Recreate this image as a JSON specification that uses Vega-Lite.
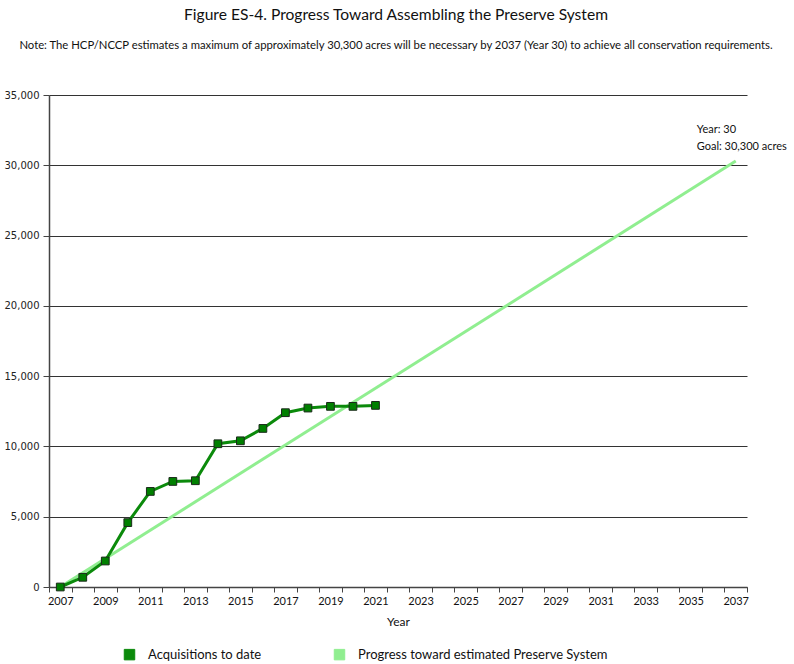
{
  "$schema": "https://vega.github.io/schema/vega-lite/v6.json",
  "width": 698,
  "height": 492,
  "autosize": "none",
  "padding": {"left": 49, "top": 95, "right": 47, "bottom": 77},
  "background": "white",
  "title": {
    "text": "Figure ES-4. Progress Toward Assembling the Preserve System\u00a0\u00a0\u00a0\u00a0\u00a0\u00a0\u00a0",
    "subtitle": "Note: The HCP/NCCP estimates a maximum of approximately 30,300 acres will be necessary by 2037 (Year 30) to achieve all conservation requirements.",
    "anchor": "middle",
    "font": "Lato",
    "fontSize": 15.6,
    "fontWeight": "normal",
    "color": "#111",
    "subtitleFont": "Lato",
    "subtitleFontSize": 11.3,
    "subtitleColor": "#111",
    "subtitlePadding": 16,
    "offset": 38,
    "dx": -2,
    "dy": -1
  },
  "datasets": {
    "acq": [
      {"year": 2007, "acres": 0, "series": "Acquisitions to date"},
      {"year": 2008, "acres": 690, "series": "Acquisitions to date"},
      {"year": 2009, "acres": 1850, "series": "Acquisitions to date"},
      {"year": 2010, "acres": 4580, "series": "Acquisitions to date"},
      {"year": 2011, "acres": 6800, "series": "Acquisitions to date"},
      {"year": 2012, "acres": 7510, "series": "Acquisitions to date"},
      {"year": 2013, "acres": 7560, "series": "Acquisitions to date"},
      {"year": 2014, "acres": 10190, "series": "Acquisitions to date"},
      {"year": 2015, "acres": 10400, "series": "Acquisitions to date"},
      {"year": 2016, "acres": 11280, "series": "Acquisitions to date"},
      {"year": 2017, "acres": 12400, "series": "Acquisitions to date"},
      {"year": 2018, "acres": 12730, "series": "Acquisitions to date"},
      {"year": 2019, "acres": 12850, "series": "Acquisitions to date"},
      {"year": 2020, "acres": 12850, "series": "Acquisitions to date"},
      {"year": 2021, "acres": 12920, "series": "Acquisitions to date"}
    ],
    "goal": [
      {"year": 2007, "acres": 0, "series": "Progress toward estimated Preserve System"},
      {"year": 2037, "acres": 30300, "series": "Progress toward estimated Preserve System"}
    ],
    "note": [
      {"year": 2037, "acres": 30300, "label": "Year: 30\nGoal: 30,300 acres"}
    ]
  },
  "encoding": {
    "x": {
      "field": "year",
      "type": "ordinal",
      "bandPosition": 0.5,
      "scale": {
        "type": "band",
        "paddingInner": 0,
        "paddingOuter": 0,
        "domain": [2007,2008,2009,2010,2011,2012,2013,2014,2015,2016,2017,2018,2019,2020,2021,2022,2023,2024,2025,2026,2027,2028,2029,2030,2031,2032,2033,2034,2035,2036,2037]
      },
      "axis": {
        "title": "Year",
        "titleFont": "Lato",
        "titleFontSize": 12,
        "titleFontWeight": "normal",
        "titleColor": "#111",
        "titlePadding": 10,
        "labelAngle": 0,
        "labelFont": "Lato",
        "labelFontSize": 11,
        "labelColor": "#111",
        "labelExpr": "(datum.value - 2007) % 2 === 0 ? datum.label : ''",
        "tickBand": "extent",
        "tickSize": 5,
        "tickColor": "#444",
        "domainColor": "#444",
        "domainWidth": 1.5,
        "grid": false,
        "labelPadding": 3
      }
    },
    "y": {
      "field": "acres",
      "type": "quantitative",
      "scale": {"domain": [0, 35000], "nice": false},
      "axis": {
        "title": null,
        "values": [0, 5000, 10000, 15000, 20000, 25000, 30000, 35000],
        "format": ",.0f",
        "labelFont": "DejaVu Sans",
        "labelFontSize": 10,
        "labelColor": "#222",
        "tickSize": 6,
        "tickColor": "#444",
        "domainColor": "#444",
        "domainWidth": 1.5,
        "grid": true,
        "gridColor": "#333",
        "gridWidth": 1,
        "labelPadding": 4
      }
    }
  },
  "layer": [
    {
      "data": {"name": "goal"},
      "mark": {"type": "line", "strokeWidth": 3, "clip": false},
      "encoding": {
        "color": {
          "field": "series",
          "type": "nominal",
          "scale": {
            "domain": ["Acquisitions to date", "Progress toward estimated Preserve System"],
            "range": ["#0b8a0b", "#90EE90"]
          },
          "legend": {
            "title": null,
            "orient": "none",
            "legendX": 74,
            "legendY": 553,
            "direction": "horizontal",
            "symbolType": "square",
            "symbolSize": 110,
            "symbolStrokeWidth": 1,
            "symbolStrokeColor": "#222",
            "labelFont": "Lato",
            "labelFontSize": 13,
            "labelColor": "#111",
            "labelOffset": 12,
            "labelLimit": 0,
            "columnPadding": 70,
            "encode": {
              "symbols": {
                "update": {
                  "fill": {"scale": "color", "field": "value"},
                  "stroke": {"value": "#222"},
                  "strokeWidth": {"value": 1}
                }
              }
            }
          }
        }
      }
    },
    {
      "data": {"name": "acq"},
      "mark": {"type": "line", "strokeWidth": 3},
      "encoding": {
        "color": {"field": "series", "type": "nominal"}
      }
    },
    {
      "data": {"name": "acq"},
      "mark": {"type": "point", "shape": "square", "filled": true, "size": 60, "fill": "#008000", "stroke": "#1a2a1a", "strokeWidth": 1, "opacity": 1}
    },
    {
      "data": {"name": "note"},
      "mark": {"type": "text", "align": "left", "baseline": "bottom", "dx": -39, "dy": -26, "lineBreak": "\n", "lineHeight": 17, "font": "Lato", "fontSize": 11, "color": "#111", "clip": false},
      "encoding": {"text": {"field": "label"}}
    }
  ],
  "config": {
    "view": {"stroke": null}
  }
}
